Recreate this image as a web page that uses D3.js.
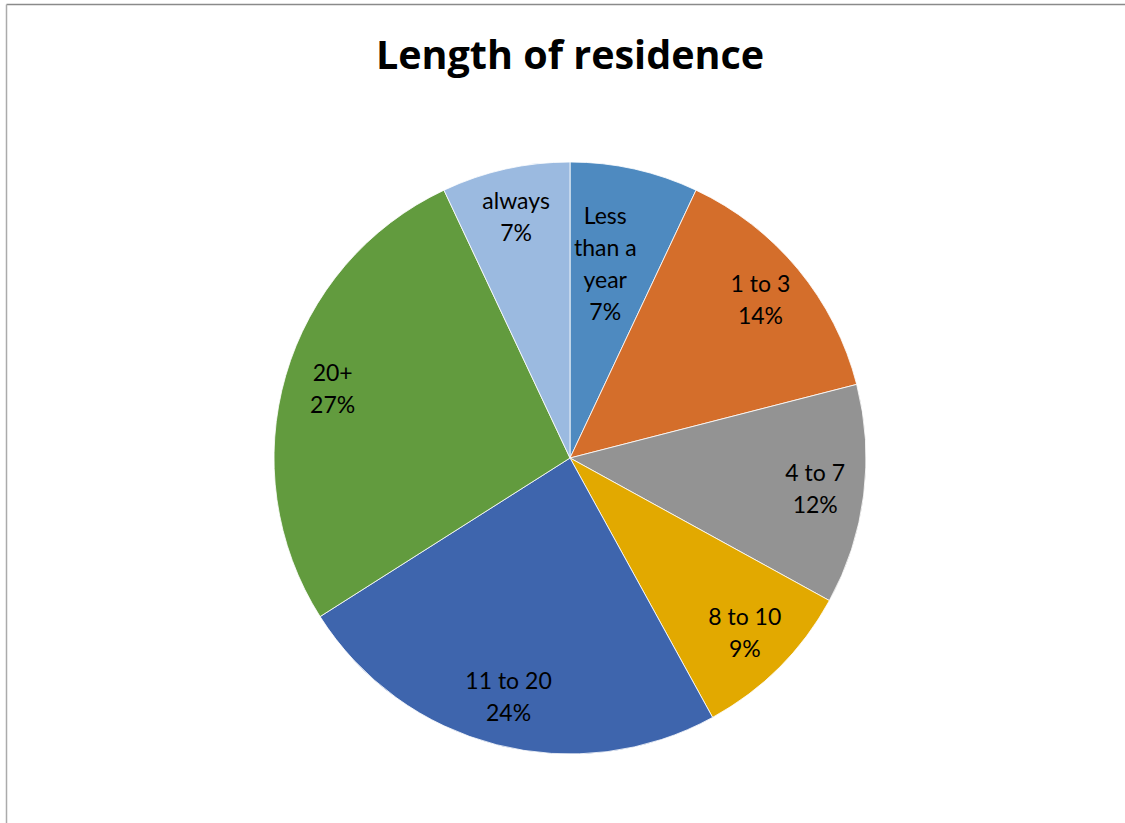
<!DOCTYPE html>
<html>
<head>
  <meta charset="utf-8">
  <script src="https://cdn.jsdelivr.net/npm/d3@7"></script>
  <style>
  body{ margin:0; background:#fff; }
  .title{ font-family: "Open Sans", Lato, sans-serif; font-weight:bold; font-size:39.5px; fill:#000; }
  .lbl{ font-family: Lato, "Open Sans", sans-serif; font-size:23px; fill:#000; }
  </style>
</head>
<body>
  <svg width="1125" height="823"></svg>
<script>
// chart data
var categories = ["Less than a year", "1 to 3", "4 to 7", "8 to 10", "11 to 20", "20+", "always"];
var shares = [7, 14, 12, 9, 24, 27, 7];
var palette = ["#4e8ac0", "#d46e2b", "#939393", "#e2a900", "#3e65ad", "#629b3e", "#9bbae0"];

(function (d3){
  'use strict';
  var svg = d3.select("svg"),
      cx = 570, cy = 458, radius = 296;

  // chart frame (only top and left edges are in view)
  svg.append("line").attr("x1", 6.5).attr("x2", 1125).attr("y1", 4.5).attr("y2", 4.5)
     .attr("stroke", "#8a8a8a").attr("stroke-width", 1.5);
  svg.append("line").attr("x1", 6.5).attr("x2", 6.5).attr("y1", 4.5).attr("y2", 823)
     .attr("stroke", "#ababab").attr("stroke-width", 1.5);

  svg.append("text")
     .attr("class", "title")
     .attr("x", cx).attr("y", 69)
     .attr("text-anchor", "middle")
     .text("Length of residence");

  var color = d3.scaleOrdinal().domain(categories).range(palette);

  var pie = d3.pie().sort(null).value(function(d){ return d.value; });
  var data = categories.map(function(c, i){ return {name: c, value: shares[i]}; });
  var arcs = pie(data);

  var arc = d3.arc().innerRadius(0).outerRadius(radius);
  var labelArc = d3.arc().innerRadius(radius * 0.835).outerRadius(radius * 0.835);
  var innerLabelArc = d3.arc().innerRadius(radius * 0.67).outerRadius(radius * 0.67);

  var g = svg.append("g").attr("transform", "translate(" + cx + "," + cy + ")");

  g.selectAll("path")
    .data(arcs)
    .enter()
    .append("path")
    .attr("d", arc)
    .attr("fill", function(d){ return color(d.data.name); })
    .attr("stroke", "#fff")
    .attr("stroke-width", 0.8);

  var total = d3.sum(shares);

  // long names get wrapped into short lines, like the spreadsheet does
  function wrap(name){
    if (name.length <= 10) return [name];
    var words = name.split(" "), lines = [], cur = "";
    words.forEach(function(w){
      var next = cur ? cur + " " + w : w;
      if (next.length > 6 && cur){ lines.push(cur); cur = w; }
      else cur = next;
    });
    if (cur) lines.push(cur);
    return lines;
  }

  var lineH = 32;
  arcs.forEach(function(d){
    var lines = wrap(d.data.name);
    lines.push(Math.round(100 * d.data.value / total) + "%");
    var c = (lines.length > 2 ? innerLabelArc : labelArc).centroid(d);
    if (lines.length > 2) c[0] -= 8; // narrow slice: keep the tall block off the edge
    var t = g.append("text").attr("class", "lbl").attr("text-anchor", "middle");
    lines.forEach(function(s, i){
      t.append("tspan")
       .attr("x", c[0])
       .attr("y", c[1] + (i - (lines.length - 1) / 2) * lineH + 8)
       .text(s);
    });
  });
})(window.d3);
</script>
</body>
</html>
